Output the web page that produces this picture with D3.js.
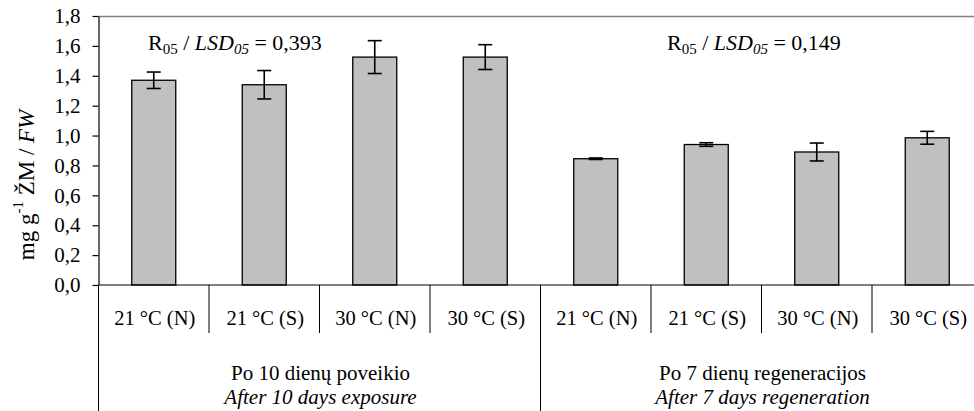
<!DOCTYPE html>
<html>
<head>
<meta charset="utf-8">
<script src="https://cdn.jsdelivr.net/npm/d3@7"></script>
<style>
  body { margin: 0; background: #fff; }
  svg { display: block; }
  svg text { font-family: "Liberation Serif", "DejaVu Serif", "Times New Roman", serif; }
  .axis path, .axis line { stroke: #000; }
</style>
</head>
<body>
<svg id="chart" width="974" height="411"></svg>
<script>
// data
const categories = ["21 °C (N)", "21 °C (S)", "30 °C (N)", "30 °C (S)",
                    "21 °C (N)", "21 °C (S)", "30 °C (N)", "30 °C (S)"];
const values = [1.37, 1.34, 1.525, 1.525, 0.845, 0.94, 0.89, 0.985];
const errors = [0.055, 0.095, 0.11, 0.083, 0.005, 0.012, 0.06, 0.043];
const groupsLt = ["Po 10 dienų poveikio", "Po 7 dienų regeneracijos"];
const groupsEn = ["After 10 days exposure", "After 7 days regeneration"];
const lsdValues = ["0,393", "0,149"];
const yTicks = [0, 0.2, 0.4, 0.6, 0.8, 1.0, 1.2, 1.4, 1.6, 1.8];

const svg = d3.select("#chart");
const plotLeft = 98.5, plotTop = 16, plotBottom = 285;
const catWidth = 110.5;

const x = d3.scaleBand()
    .domain(d3.range(categories.length))
    .range([plotLeft, plotLeft + catWidth * categories.length])
    .padding(0);
const y = d3.scaleLinear().domain([0, 1.8]).range([plotBottom, plotTop]);
const barW = 44;
const fmt = d => d3.format(".1f")(d).replace(".", ",");

// plot area top border (grey)
svg.append("line")
    .attr("x1", plotLeft).attr("x2", 974)
    .attr("y1", y(1.8) + 0.5).attr("y2", y(1.8) + 0.5)
    .attr("stroke", "#808080").attr("stroke-width", 1.3);

// y axis
svg.append("g")
    .attr("class", "axis")
    .attr("transform", `translate(${plotLeft},0)`)
    .call(d3.axisLeft(y).tickValues(yTicks).tickFormat(fmt).tickSize(6).tickPadding(12).tickSizeOuter(0))
    .call(g => g.attr("font-family", null).attr("font-size", null))
    .call(g => g.selectAll("text").attr("font-size", 21).attr("fill", "#000"))
    .call(g => g.selectAll("line, path").attr("stroke-width", 1.2));

// bars
svg.selectAll(".bar")
    .data(values)
    .enter()
    .append("rect")
    .attr("class", "bar")
    .attr("x", (d, i) => x(i) + x.bandwidth() / 2 - barW / 2)
    .attr("y", d => y(d))
    .attr("width", barW)
    .attr("height", d => y(0) - y(d))
    .attr("fill", "#c0c0c0")
    .attr("stroke", "#000")
    .attr("stroke-width", 1.3);

// error bars
const err = svg.selectAll(".err")
    .data(values)
    .enter()
    .append("g")
    .attr("class", "err")
    .attr("stroke", "#000")
    .attr("stroke-width", 1.6);
err.append("line")
    .attr("x1", (d, i) => x(i) + x.bandwidth() / 2)
    .attr("x2", (d, i) => x(i) + x.bandwidth() / 2)
    .attr("y1", (d, i) => y(d + errors[i]))
    .attr("y2", (d, i) => y(d - errors[i]));
[1, -1].forEach(s => {
    err.append("line")
        .attr("x1", (d, i) => x(i) + x.bandwidth() / 2 - 7)
        .attr("x2", (d, i) => x(i) + x.bandwidth() / 2 + 7)
        .attr("y1", (d, i) => y(d + s * errors[i]))
        .attr("y2", (d, i) => y(d + s * errors[i]));
});

// category axis: baseline, dividers, labels
svg.append("line")
    .attr("x1", plotLeft).attr("x2", 974)
    .attr("y1", plotBottom).attr("y2", plotBottom)
    .attr("stroke", "#000").attr("stroke-width", 1.2);

const dividers = d3.range(categories.length + 1);
svg.selectAll(".divider")
    .data(dividers)
    .enter()
    .append("line")
    .attr("class", "divider")
    .attr("x1", d => plotLeft + d * catWidth)
    .attr("x2", d => plotLeft + d * catWidth)
    .attr("y1", plotBottom)
    .attr("y2", d => d % 4 === 0 ? 411 : 333)
    .attr("stroke", "#000")
    .attr("stroke-width", 1);

svg.selectAll(".catlabel")
    .data(categories)
    .enter()
    .append("text")
    .attr("class", "catlabel")
    .attr("x", (d, i) => x(i) + x.bandwidth() / 2 + 1)
    .attr("y", 325)
    .attr("text-anchor", "middle")
    .attr("font-size", 20.5)
    .text(d => d);

// group labels
const gCenter = i => plotLeft + (i * 4 + 2) * catWidth + 1;
svg.selectAll(".grpLt")
    .data(groupsLt)
    .enter()
    .append("text")
    .attr("x", (d, i) => gCenter(i))
    .attr("y", 380)
    .attr("text-anchor", "middle")
    .attr("font-size", 21)
    .text(d => d);
svg.selectAll(".grpEn")
    .data(groupsEn)
    .enter()
    .append("text")
    .attr("x", (d, i) => gCenter(i))
    .attr("y", 404)
    .attr("text-anchor", "middle")
    .attr("font-size", 21)
    .attr("font-style", "italic")
    .text(d => d);

// LSD annotations
const lsdX = [148, 667];
lsdValues.forEach((v, i) => {
    const t = svg.append("text")
        .attr("x", lsdX[i])
        .attr("y", 50)
        .attr("font-size", 22);
    t.append("tspan").text("R");
    t.append("tspan").attr("font-size", 15).attr("dy", 4).text("05");
    t.append("tspan").attr("dy", -4).text(" / ");
    t.append("tspan").attr("font-style", "italic").text("LSD");
    t.append("tspan").attr("font-style", "italic").attr("font-size", 15).attr("dy", 4).text("05");
    t.append("tspan").attr("dy", -4).text(" = " + v);
});

// y axis title
const yt = svg.append("text")
    .attr("transform", "translate(34,185) rotate(-90)")
    .attr("text-anchor", "middle")
    .attr("font-size", 23);
yt.append("tspan").text("mg g");
yt.append("tspan").attr("font-size", 15).attr("dy", -11).text("-1");
yt.append("tspan").attr("dy", 11).text(" ŽM / ");
yt.append("tspan").attr("font-style", "italic").text("FW");
</script>
</body>
</html>
